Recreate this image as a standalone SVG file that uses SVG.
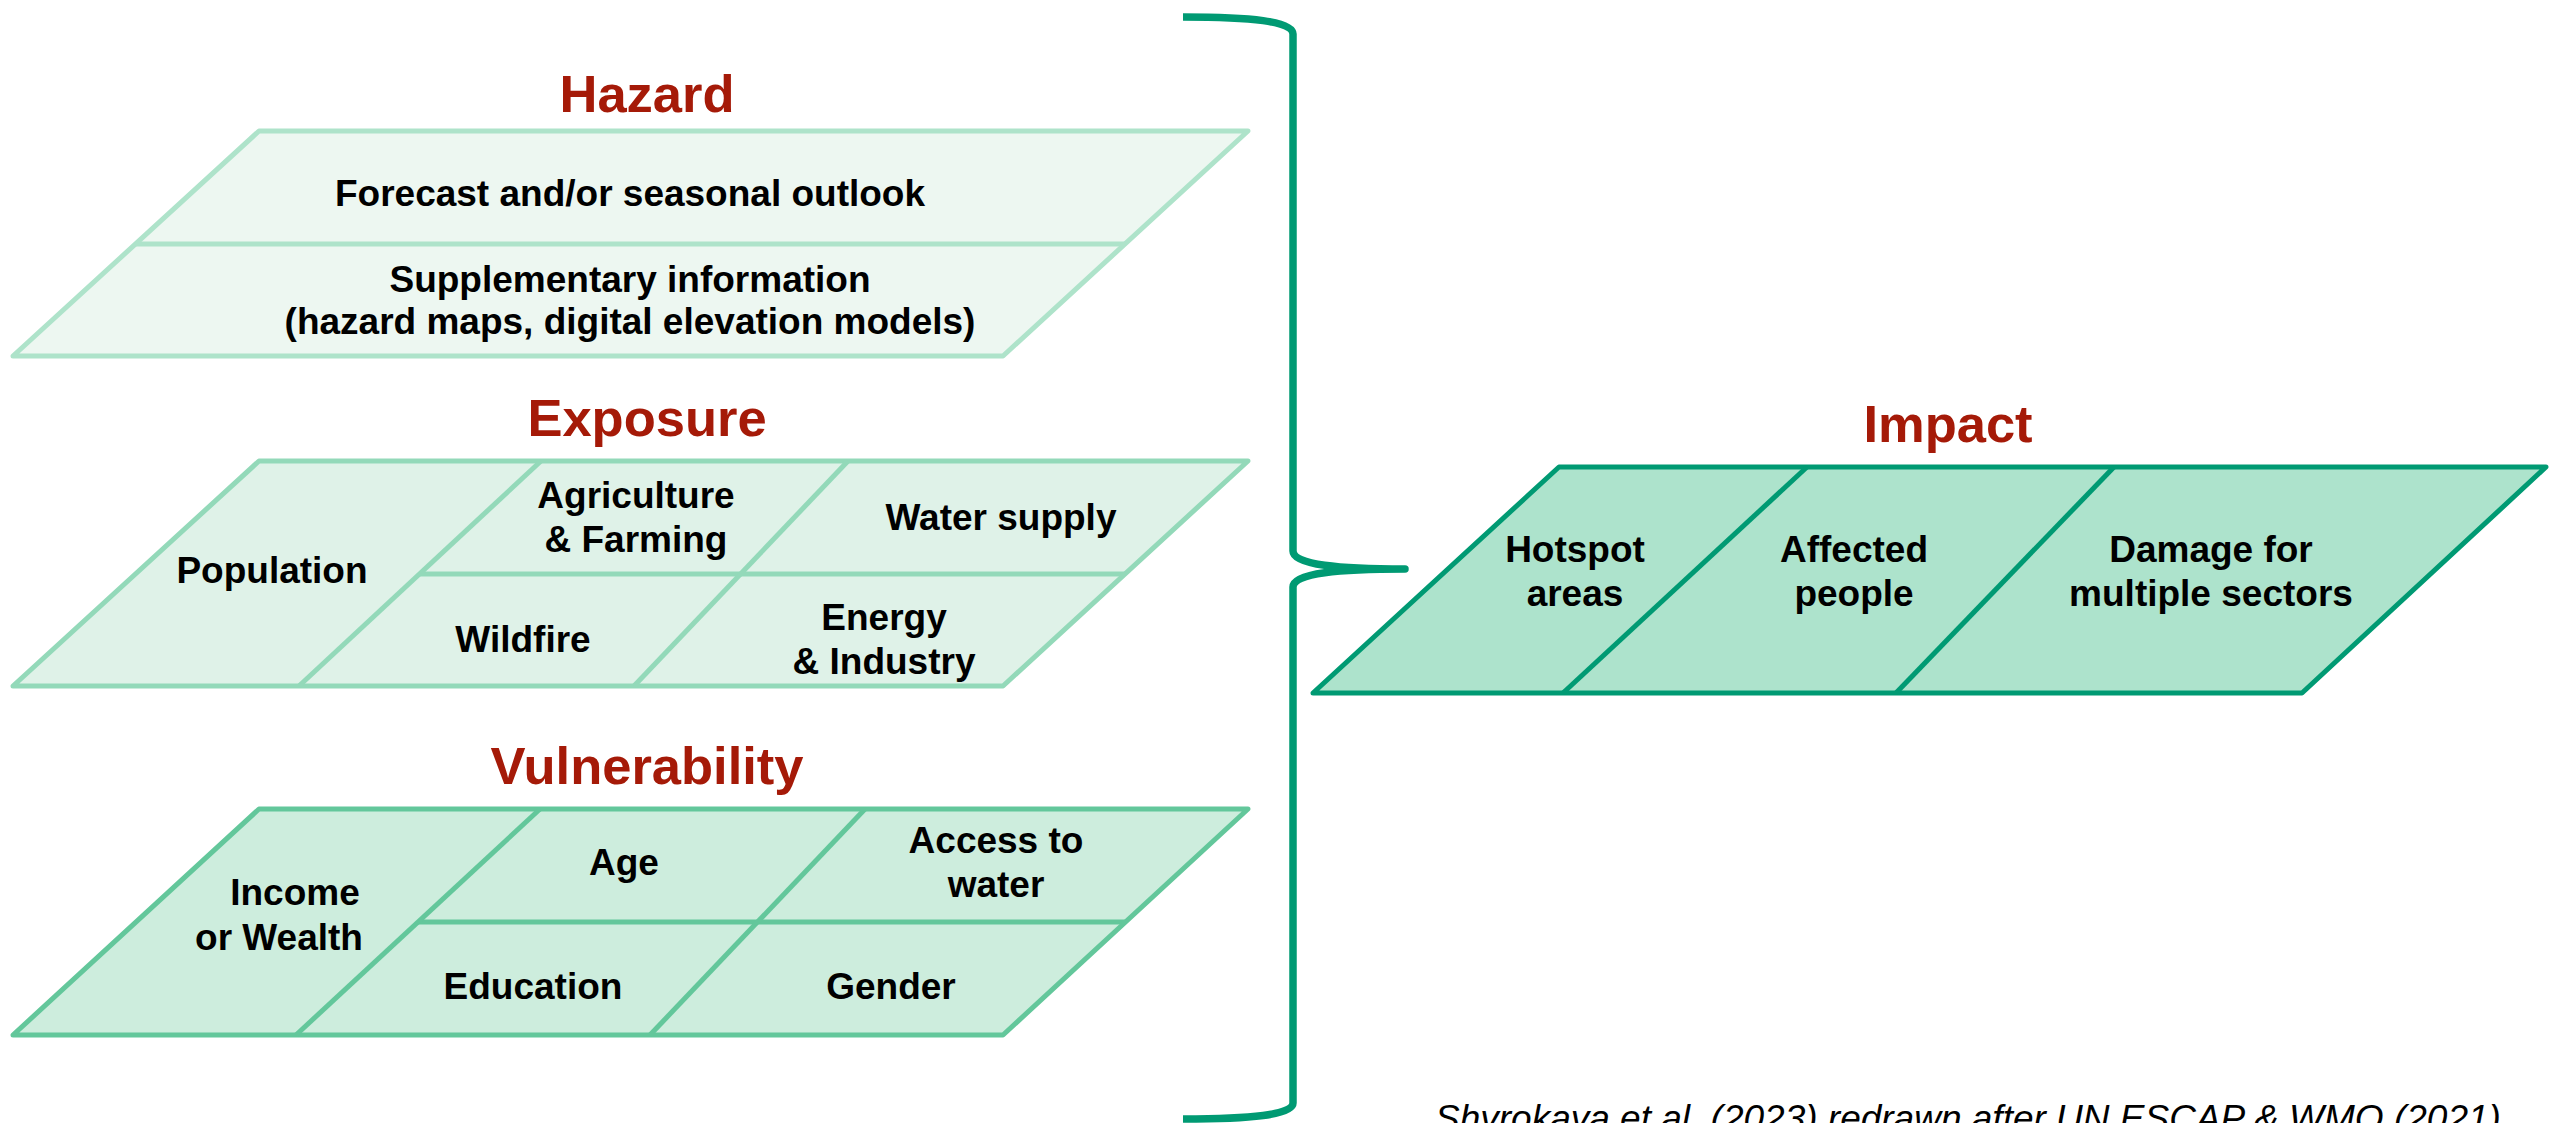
<svg xmlns="http://www.w3.org/2000/svg" width="2549" height="1123" viewBox="0 0 2549 1123">
  <style>
    .title { font-family: "Liberation Sans", Arial, sans-serif; font-weight: bold; font-size: 52.5px; fill: #a51a08; text-anchor: middle; }
    .lbl { font-family: "Liberation Sans", Arial, sans-serif; font-weight: bold; font-size: 37px; fill: #000; text-anchor: middle; }
    .cap { font-family: "Liberation Sans", Arial, sans-serif; font-style: italic; font-size: 37px; fill: #000; }
    .shape { stroke-width: 5; stroke-linejoin: round; stroke-linecap: round; }
    .hz { fill: #edf7f1; stroke: #aee3ca; }
    .hz-line { fill: none; stroke: #aee3ca; stroke-width: 5; }
    .ex { fill: #dff2e8; stroke: #93d9b9; }
    .ex-line { fill: none; stroke: #93d9b9; stroke-width: 5; }
    .vu { fill: #cdeddd; stroke: #63c79b; }
    .vu-line { fill: none; stroke: #63c79b; stroke-width: 5; }
    .im { fill: #ade3cc; stroke: #009a73; }
    .im-line { fill: none; stroke: #009a73; stroke-width: 5; }
    .brace { fill: none; stroke: #009a73; stroke-width: 7.5; stroke-linejoin: round; }
  </style>

  <!-- Hazard layer -->
  <g id="hazard">
    <text class="title" x="647" y="112">Hazard</text>
    <polygon class="shape hz" points="259,131 1248,131 1003,356 13,356"/>
    <line class="hz-line" x1="135" y1="244" x2="1125" y2="244"/>
    <text class="lbl" x="630" y="206">Forecast and/or seasonal outlook</text>
    <text class="lbl" x="630" y="292">Supplementary information</text>
    <text class="lbl" x="630" y="334">(hazard maps, digital elevation models)</text>
  </g>

  <!-- Exposure layer -->
  <g id="exposure">
    <text class="title" x="647" y="436">Exposure</text>
    <polygon class="shape ex" points="259,461 1248,461 1003,686 13,686"/>
    <line class="ex-line" x1="420" y1="574" x2="1125" y2="574"/>
    <line class="ex-line" x1="541" y1="461" x2="299" y2="686"/>
    <line class="ex-line" x1="848" y1="461" x2="634" y2="686"/>
    <text class="lbl" x="272" y="583">Population</text>
    <text class="lbl" x="636" y="508">Agriculture</text>
    <text class="lbl" x="636" y="552">&amp; Farming</text>
    <text class="lbl" x="1001" y="530">Water supply</text>
    <text class="lbl" x="523" y="652">Wildfire</text>
    <text class="lbl" x="884" y="630">Energy</text>
    <text class="lbl" x="884" y="674">&amp; Industry</text>
  </g>

  <!-- Vulnerability layer -->
  <g id="vulnerability">
    <text class="title" x="647" y="784">Vulnerability</text>
    <polygon class="shape vu" points="259,809 1248,809 1003,1035 13,1035"/>
    <line class="vu-line" x1="418" y1="922" x2="1125" y2="922"/>
    <line class="vu-line" x1="540" y1="809" x2="296" y2="1035"/>
    <line class="vu-line" x1="865" y1="809" x2="650" y2="1035"/>
    <text class="lbl" x="295" y="905">Income</text>
    <text class="lbl" x="279" y="950">or Wealth</text>
    <text class="lbl" x="624" y="875">Age</text>
    <text class="lbl" x="996" y="853">Access to</text>
    <text class="lbl" x="996" y="897">water</text>
    <text class="lbl" x="533" y="999">Education</text>
    <text class="lbl" x="891" y="999">Gender</text>
  </g>

  <!-- Impact layer -->
  <g id="impact">
    <text class="title" x="1948" y="442">Impact</text>
    <polygon class="shape im" points="1559,467 2546,467 2302,693 1313,693"/>
    <line class="im-line" x1="1807" y1="467" x2="1563" y2="693"/>
    <line class="im-line" x1="2114" y1="467" x2="1896" y2="693"/>
    <text class="lbl" x="1575" y="562">Hotspot</text>
    <text class="lbl" x="1575" y="606">areas</text>
    <text class="lbl" x="1854" y="562">Affected</text>
    <text class="lbl" x="1854" y="606">people</text>
    <text class="lbl" x="2211" y="562">Damage for</text>
    <text class="lbl" x="2211" y="606">multiple sectors</text>
  </g>

  <!-- Curly brace joining the three layers into the impact layer -->
  <g id="connectors">
    <path class="brace" d="M1183,17 C1250,17 1293,21 1293,34 L1293,551 C1293,565 1340,569 1405,569 C1340,569 1293,573 1293,587 L1293,1103 C1293,1115 1250,1119 1183,1119"/>
  </g>

  <text class="cap" x="1435" y="1131">Shyrokaya et al. (2023) redrawn after UN ESCAP &amp; WMO (2021)</text>
</svg>
